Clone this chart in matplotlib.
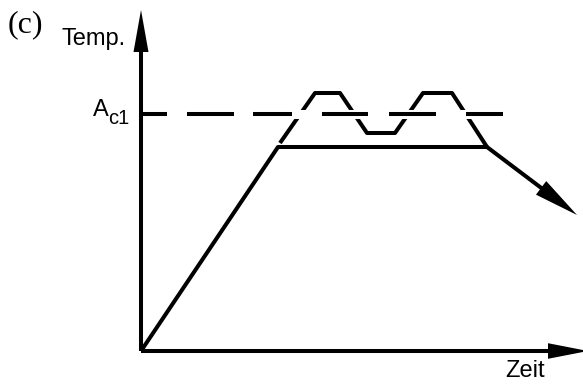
import numpy as np
import matplotlib
import matplotlib.pyplot as plt
from matplotlib.patches import Polygon

matplotlib.rcParams['lines.scale_dashes'] = False

# schematic values (arbitrary units: time / temperature)
heat_time = [0, 13.7, 34.6, 43.6]          # heating, hold, cooling
heat_temp = [0, 20.4, 20.4, 13.6]
cycle_time = [13.9, 17.4, 19.9, 22.6, 25.4, 28.2, 31.1, 34.6]   # pendulum around Ac1
cycle_temp = [20.8, 25.8, 25.8, 21.8, 21.8, 25.8, 25.8, 20.4]
ac1_temp = 23.7
ac1_end = 36.2
time_axis_end = 44.7
temp_axis_end = 34.1

LW = 2.9
# dash lengths of the Ac1 line (pixels -> points)
dash_px = [26, 20, 47, 19, 39, 30, 46, 21, 47, 30, 37, 30]
dash_pt = [d * 0.72 for d in dash_px]


def head(ax, x0, y0, x1, y1, length, half_w):
    """filled arrow head with tip at (x1, y1), pointing away from (x0, y0)"""
    d = np.array([x1 - x0, y1 - y0], dtype=float)
    d /= np.hypot(*d)
    n = np.array([-d[1], d[0]])
    tip = np.array([x1, y1])
    base = tip - d * length
    pts = [tip, base + n * half_w, base - n * half_w]
    ax.add_patch(Polygon(pts, closed=True, color='black', lw=0, zorder=5))
    return base


fig = plt.figure(figsize=(5.83, 3.85), dpi=100)
ax = fig.add_axes([0, 0, 1, 1])
ax.set_xlim(-14.1, 44.2)
ax.set_ylim(-3.4, 35.1)
ax.axis('off')

# axes with arrows
b = head(ax, 0, 0, 0, temp_axis_end, 4.2, 0.75)
ax.plot([0, 0], [0, b[1] + 1.5], color='black', lw=LW, solid_capstyle='butt', zorder=4)
b = head(ax, 0, 0, time_axis_end, 0, 4.0, 0.78)
ax.plot([0, b[0] + 1.5], [0, 0], color='black', lw=LW, solid_capstyle='butt', zorder=4)

# main curve: heating, holding, cooling
b = head(ax, heat_time[-2], heat_temp[-2], heat_time[-1], heat_temp[-1], 4.5, 0.85)
xs = heat_time[:-1] + [b[0] + 1.0]
ys = heat_temp[:-1] + [b[1] - 0.75]
ax.plot(xs, ys, color='black', lw=LW, solid_capstyle='butt', zorder=3)

# pendulum annealing around Ac1
ax.plot(cycle_time, cycle_temp, color='black', lw=LW, solid_capstyle='butt', zorder=3)

# Ac1 dashed line with white gap
ax.plot([0.2, ac1_end], [ac1_temp, ac1_temp], color='white', lw=6.5,
        solid_capstyle='butt', zorder=3.5)
ax.plot([0, ac1_end], [ac1_temp, ac1_temp], color='black', lw=LW,
        dashes=dash_pt, zorder=4)

# labels
ax.text(-13.3, 31.9, '(c)', family='Liberation Serif', fontsize=23, va='baseline', ha='left')
ax.text(-7.9, 30.6, 'Temp.', family='Liberation Sans', fontsize=17, va='baseline', ha='left')
ax.text(-4.8, ac1_temp - 0.2, 'A', family='Liberation Sans', fontsize=17, va='baseline', ha='left')
ax.text(-3.3, ac1_temp - 1.0, 'c1', family='Liberation Sans', fontsize=14.5, va='baseline', ha='left')
ax.text(36.4, -2.6, 'Zeit', family='Liberation Sans', fontsize=17, va='baseline', ha='left')

fig.savefig('out.png', dpi=100)
